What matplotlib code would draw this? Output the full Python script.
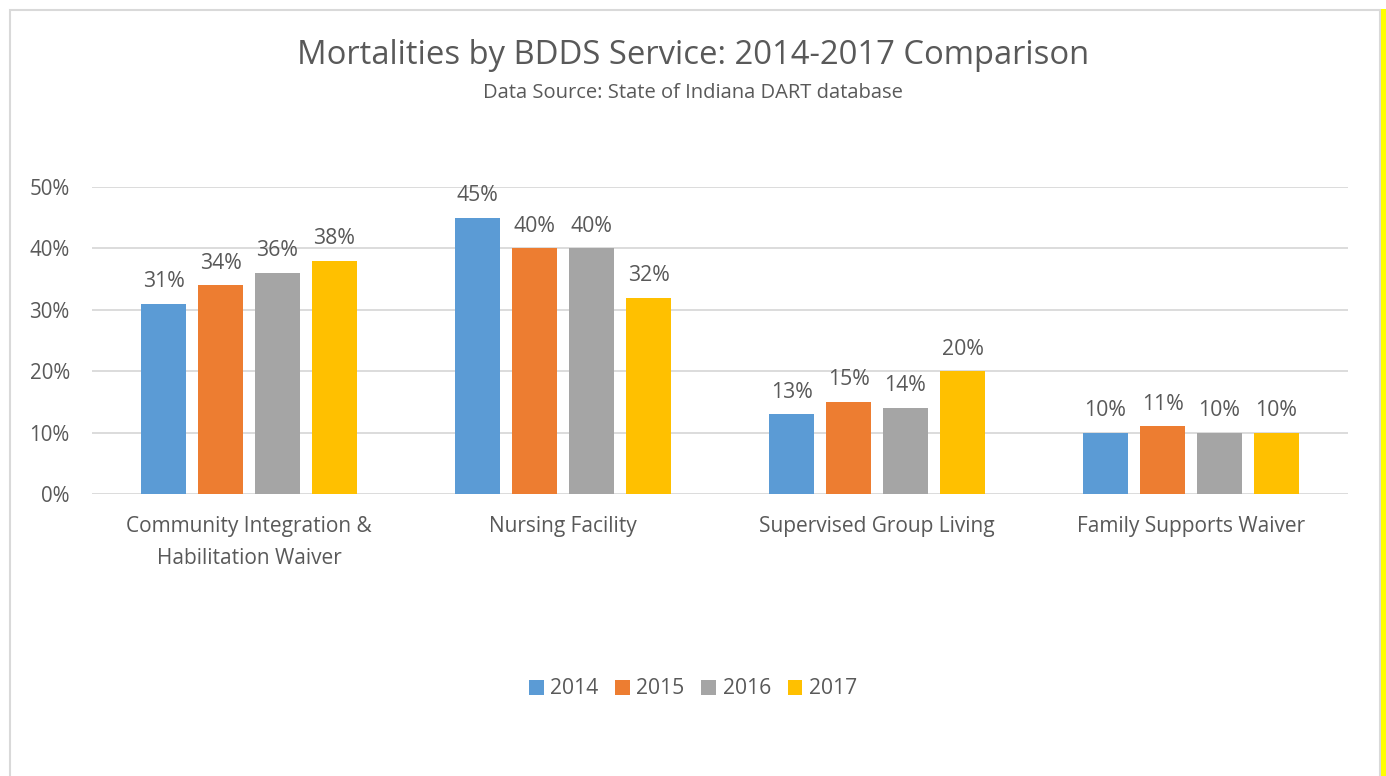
import numpy as np
import matplotlib.pyplot as plt
from matplotlib.patches import Rectangle

categories = ["Community Integration &\nHabilitation Waiver", "Nursing Facility",
              "Supervised Group Living", "Family Supports Waiver"]
years = ["2014", "2015", "2016", "2017"]
values = {
    "2014": [31, 45, 13, 10],
    "2015": [34, 40, 15, 11],
    "2016": [36, 40, 14, 10],
    "2017": [38, 32, 20, 10],
}
colors = ["#5B9BD5", "#ED7D31", "#A5A5A5", "#FFC000"]

plt.rcParams['font.family'] = ['Open Sans', 'DejaVu Sans']
txt = "#595959"

fig = plt.figure(figsize=(13.86, 7.76), dpi=100)
ax = fig.add_axes([92 / 1386, 1 - 494 / 776, 1256 / 1386, 307 / 776])

x = np.arange(len(categories))
pitch = 0.1815
width = 0.143
for i, y in enumerate(years):
    pos = x + (i - 1.5) * pitch
    bars = ax.bar(pos, values[y], width, color=colors[i], label=y, zorder=3)
    for b, v in zip(bars, values[y]):
        ax.text(b.get_x() + b.get_width() / 2, v + 1.9, f"{v}%", ha="center", va="bottom",
                fontsize=15.3, color=txt)

ax.set_xlim(-0.5, 3.5)
ax.set_ylim(0, 50)
ax.set_yticks(range(0, 51, 10))
ax.set_yticklabels([f"{t}%" for t in range(0, 51, 10)])
ax.yaxis.grid(True, color="#D9D9D9", linewidth=1.3, zorder=0)
ax.set_xticks(x)
ax.set_xticklabels(categories, fontsize=15, color=txt, linespacing=1.65)
ax.tick_params(axis="y", length=0, labelsize=14.8, labelcolor=txt, pad=16)
ax.tick_params(axis="x", length=0, pad=16)
for s in ax.spines.values():
    s.set_visible(False)

fig.text(0.5, 1 - 55 / 776, "Mortalities by BDDS Service: 2014-2017 Comparison",
         ha="center", va="center", fontsize=23.6, color=txt)
fig.text(0.5, 1 - 93 / 776, "Data Source: State of Indiana DART database",
         ha="center", va="center", fontsize=14.5, color=txt)

handles, labels = ax.get_legend_handles_labels()
fig.legend(handles, labels, loc="center", bbox_to_anchor=(0.5, 1 - 689 / 776), ncol=4,
           frameon=False, fontsize=15.2, labelcolor=txt, handlelength=0.7, handleheight=0.7,
           handletextpad=0.3, columnspacing=0.8)

# chart frame
fig.patches.append(Rectangle((10 / 1386, -0.1), 1370 / 1386, 1.1 - 10 / 776, transform=fig.transFigure,
                             fill=False, edgecolor="#D9D9D9", linewidth=1.5))
fig.patches.append(Rectangle((1381 / 1386, 0), 5 / 1386, 1 - 9 / 776, transform=fig.transFigure,
                             facecolor="#FFFF00", edgecolor="none"))

fig.savefig("out.png", dpi=100)
